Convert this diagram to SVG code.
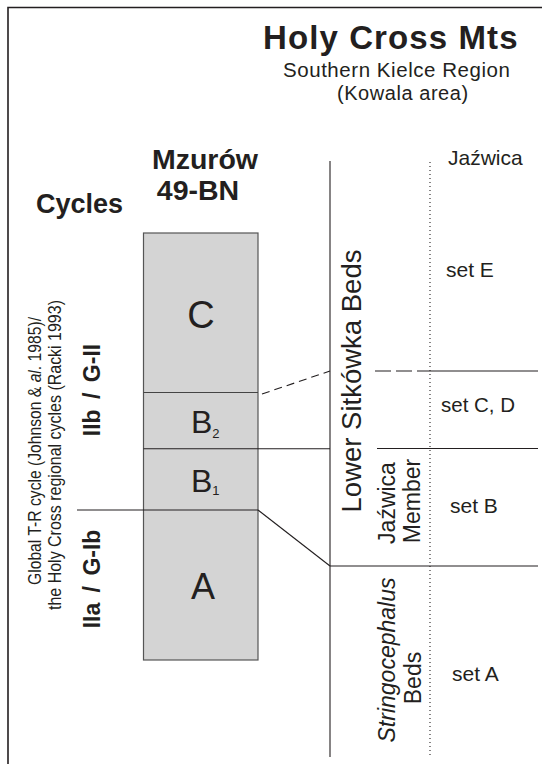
<svg xmlns="http://www.w3.org/2000/svg" width="542" height="764" viewBox="0 0 542 764">
<style>
text{font-family:"Liberation Sans",Arial,sans-serif;fill:#231f20}
.b{font-weight:bold}
.ln{stroke:#231f20;stroke-width:1.1;fill:none}
.box{fill:#d4d4d4;stroke:#555;stroke-width:1.2}
.div{stroke:#444;stroke-width:1.1}
</style>
<rect width="542" height="764" fill="#fff"/>
<g id="frame"><path class="ln" d="M8,764 V7.5 H542" style="stroke-width:1.6"/></g>
<g id="title">
<text class="b" x="263" y="49" font-size="33" letter-spacing="1.1">Holy Cross Mts</text>
<text x="283" y="77" font-size="20.5" letter-spacing="0.55">Southern Kielce Region</text>
<text x="337" y="100" font-size="20" letter-spacing="0.55">(Kowala area)</text>
</g>
<g id="cycles-head"><text class="b" x="36" y="213" font-size="27">Cycles</text></g>
<g id="section-head">
<text class="b" x="205" y="169" font-size="28.5" text-anchor="middle">Mzurów</text>
<text class="b" x="198" y="200" font-size="28.5" text-anchor="middle">49-BN</text>
</g>
<g id="cycle-caption" font-size="16">
<text transform="translate(41,451) rotate(-90) scale(0.98,1.1)" text-anchor="middle">Global T-R cycle (Johnson &amp; <tspan font-style="italic">al</tspan>. 1985)/</text>
<text transform="translate(61,455) rotate(-90) scale(1,1.1)" text-anchor="middle">the Holy Cross regional cycles (Racki 1993)</text>
</g>
<g id="cycle-IIb"><text class="b" transform="translate(100,390) rotate(-90)" font-size="23" text-anchor="middle" word-spacing="4">IIb / G-II</text></g>
<g id="cycle-IIa"><text class="b" transform="translate(100,579) rotate(-90)" font-size="23" text-anchor="middle" word-spacing="4">IIa / G-Ib</text></g>
<g id="column">
<rect class="box" x="143.5" y="233" width="114.5" height="427"/>
<line class="div" x1="143.5" y1="392.5" x2="258" y2="392.5"/>
</g>
<g id="unit-C"><text x="201" y="328" font-size="38" text-anchor="middle">C</text></g>
<g id="unit-B2"><text x="191" y="433" font-size="32">B<tspan font-size="13" dy="5">2</tspan></text></g>
<g id="unit-B1"><text x="191" y="492" font-size="32">B<tspan font-size="13" dy="3">1</tspan></text></g>
<g id="unit-A"><text x="203" y="599" font-size="36" text-anchor="middle">A</text></g>
<g id="connectors" class="ln">
<line x1="143.5" y1="448.7" x2="330" y2="448.7"/>
<line x1="77" y1="510" x2="258" y2="510"/>
<line x1="258" y1="510" x2="330" y2="566"/>
<line x1="262" y1="394" x2="330" y2="371" stroke-dasharray="8,5"/>
<line x1="330" y1="161" x2="330" y2="757"/>
<line x1="375" y1="371" x2="430" y2="371" stroke-dasharray="16,5"/>
<line x1="430" y1="371" x2="538" y2="371"/>
<line x1="377" y1="448.5" x2="538" y2="448.5"/>
<line x1="330" y1="566" x2="538" y2="566"/>
<line x1="430" y1="162" x2="430" y2="757" stroke-dasharray="1,3"/>
</g>
<g id="lower-sitkowka"><text transform="translate(361,381) rotate(-90)" font-size="27.5" text-anchor="middle">Lower Sitkówka Beds</text></g>
<g id="jazwica-member" font-size="23">
<text transform="translate(395,503) rotate(-90)" text-anchor="middle">Jaźwica</text>
<text transform="translate(420,501) rotate(-90)" text-anchor="middle">Member</text>
</g>
<g id="stringocephalus" font-size="23">
<text transform="translate(395,660) rotate(-90)" text-anchor="middle" font-style="italic">Stringocephalus</text>
<text transform="translate(421,678) rotate(-90)" text-anchor="middle">Beds</text>
</g>
<g id="jazwica-head"><text x="448" y="165" font-size="21">Jaźwica</text></g>
<g id="sets" font-size="21">
<text x="446" y="277">set E</text>
<text x="441" y="412" font-size="20.5">set C, D</text>
<text x="450" y="513">set B</text>
<text x="452" y="681">set A</text>
</g>
</svg>
